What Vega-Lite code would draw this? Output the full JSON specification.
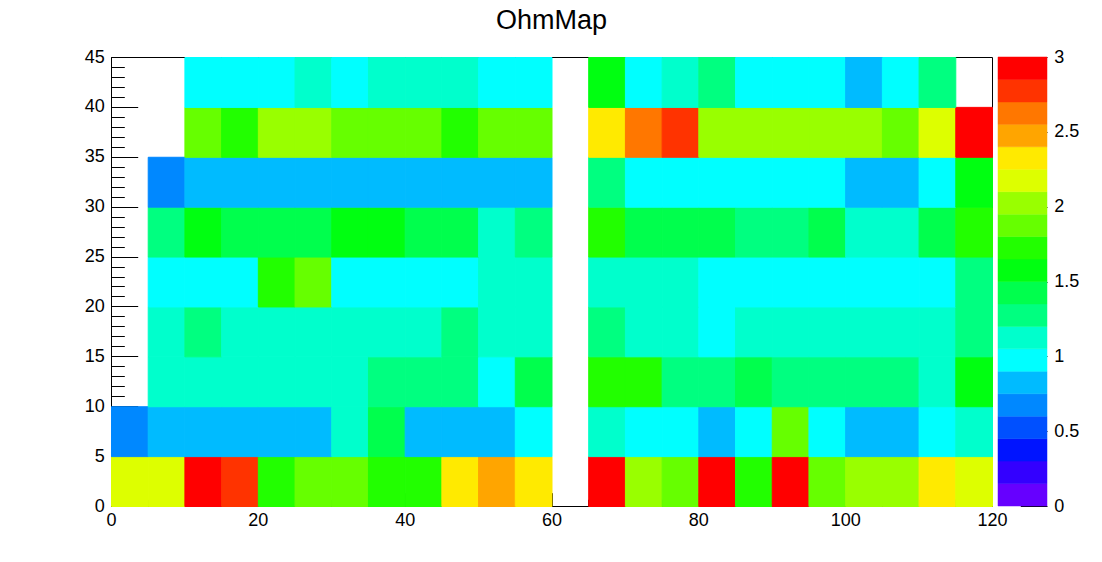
{
  "$schema": "https://vega.github.io/schema/vega-lite/v6.json",
  "padding": {"left": 84, "top": 7, "right": 5, "bottom": 5},
  "spacing": 6,
  "bounds": "flush",
  "resolve": {"scale": {"color": "independent", "stroke": "independent"}},
  "config": {
    "view": {"stroke": null},
    "axis": {"grid": false, "title": null, "labelFont": "Liberation Sans", "labelFontSize": 18, "labelColor": "black", "tickColor": "black", "domainColor": "black", "tickWidth": 1, "domainWidth": 1, "labelFlush": false, "labelOverlap": false, "zindex": 1}
  },
  "hconcat": [
    {
      "width": 881,
      "height": 449,
      "title": {"text": "OhmMap", "font": "Liberation Sans", "fontSize": 27, "fontWeight": "normal", "color": "black", "anchor": "middle", "frame": "group", "offset": 13},
      "data": {"values": [
        {"x":2.5,"y":2.5,"v":2.17},{"x":7.5,"y":2.5,"v":2.17},{"x":12.5,"y":2.5,"v":2.92},{"x":17.5,"y":2.5,"v":2.77},{"x":22.5,"y":2.5,"v":1.72},{"x":27.5,"y":2.5,"v":1.87},{"x":32.5,"y":2.5,"v":1.87},{"x":37.5,"y":2.5,"v":1.72},{"x":42.5,"y":2.5,"v":1.72},{"x":47.5,"y":2.5,"v":2.32},{"x":52.5,"y":2.5,"v":2.47},{"x":57.5,"y":2.5,"v":2.32},{"x":67.5,"y":2.5,"v":2.92},{"x":72.5,"y":2.5,"v":2.02},{"x":77.5,"y":2.5,"v":1.87},{"x":82.5,"y":2.5,"v":2.92},{"x":87.5,"y":2.5,"v":1.72},{"x":92.5,"y":2.5,"v":2.92},{"x":97.5,"y":2.5,"v":1.87},{"x":102.5,"y":2.5,"v":2.02},{"x":107.5,"y":2.5,"v":2.02},{"x":112.5,"y":2.5,"v":2.32},{"x":117.5,"y":2.5,"v":2.17},
        {"x":2.5,"y":7.5,"v":0.67},{"x":7.5,"y":7.5,"v":0.82},{"x":12.5,"y":7.5,"v":0.82},{"x":17.5,"y":7.5,"v":0.82},{"x":22.5,"y":7.5,"v":0.82},{"x":27.5,"y":7.5,"v":0.82},{"x":32.5,"y":7.5,"v":1.12},{"x":37.5,"y":7.5,"v":1.42},{"x":42.5,"y":7.5,"v":0.82},{"x":47.5,"y":7.5,"v":0.82},{"x":52.5,"y":7.5,"v":0.82},{"x":57.5,"y":7.5,"v":0.97},{"x":67.5,"y":7.5,"v":1.12},{"x":72.5,"y":7.5,"v":0.97},{"x":77.5,"y":7.5,"v":0.97},{"x":82.5,"y":7.5,"v":0.82},{"x":87.5,"y":7.5,"v":0.97},{"x":92.5,"y":7.5,"v":1.87},{"x":97.5,"y":7.5,"v":0.97},{"x":102.5,"y":7.5,"v":0.82},{"x":107.5,"y":7.5,"v":0.82},{"x":112.5,"y":7.5,"v":0.97},{"x":117.5,"y":7.5,"v":1.12},
        {"x":7.5,"y":12.5,"v":1.12},{"x":12.5,"y":12.5,"v":1.12},{"x":17.5,"y":12.5,"v":1.12},{"x":22.5,"y":12.5,"v":1.12},{"x":27.5,"y":12.5,"v":1.12},{"x":32.5,"y":12.5,"v":1.12},{"x":37.5,"y":12.5,"v":1.27},{"x":42.5,"y":12.5,"v":1.27},{"x":47.5,"y":12.5,"v":1.27},{"x":52.5,"y":12.5,"v":0.97},{"x":57.5,"y":12.5,"v":1.42},{"x":67.5,"y":12.5,"v":1.72},{"x":72.5,"y":12.5,"v":1.72},{"x":77.5,"y":12.5,"v":1.27},{"x":82.5,"y":12.5,"v":1.27},{"x":87.5,"y":12.5,"v":1.42},{"x":92.5,"y":12.5,"v":1.27},{"x":97.5,"y":12.5,"v":1.27},{"x":102.5,"y":12.5,"v":1.27},{"x":107.5,"y":12.5,"v":1.27},{"x":112.5,"y":12.5,"v":1.12},{"x":117.5,"y":12.5,"v":1.57},
        {"x":7.5,"y":17.5,"v":1.12},{"x":12.5,"y":17.5,"v":1.27},{"x":17.5,"y":17.5,"v":1.12},{"x":22.5,"y":17.5,"v":1.12},{"x":27.5,"y":17.5,"v":1.12},{"x":32.5,"y":17.5,"v":1.12},{"x":37.5,"y":17.5,"v":1.12},{"x":42.5,"y":17.5,"v":1.12},{"x":47.5,"y":17.5,"v":1.27},{"x":52.5,"y":17.5,"v":1.12},{"x":57.5,"y":17.5,"v":1.12},{"x":67.5,"y":17.5,"v":1.27},{"x":72.5,"y":17.5,"v":1.12},{"x":77.5,"y":17.5,"v":1.12},{"x":82.5,"y":17.5,"v":0.97},{"x":87.5,"y":17.5,"v":1.12},{"x":92.5,"y":17.5,"v":1.12},{"x":97.5,"y":17.5,"v":1.12},{"x":102.5,"y":17.5,"v":1.12},{"x":107.5,"y":17.5,"v":1.12},{"x":112.5,"y":17.5,"v":1.12},{"x":117.5,"y":17.5,"v":1.27},
        {"x":7.5,"y":22.5,"v":0.97},{"x":12.5,"y":22.5,"v":0.97},{"x":17.5,"y":22.5,"v":0.97},{"x":22.5,"y":22.5,"v":1.72},{"x":27.5,"y":22.5,"v":1.87},{"x":32.5,"y":22.5,"v":0.97},{"x":37.5,"y":22.5,"v":0.97},{"x":42.5,"y":22.5,"v":0.97},{"x":47.5,"y":22.5,"v":0.97},{"x":52.5,"y":22.5,"v":1.12},{"x":57.5,"y":22.5,"v":1.12},{"x":67.5,"y":22.5,"v":1.12},{"x":72.5,"y":22.5,"v":1.12},{"x":77.5,"y":22.5,"v":1.12},{"x":82.5,"y":22.5,"v":0.97},{"x":87.5,"y":22.5,"v":0.97},{"x":92.5,"y":22.5,"v":0.97},{"x":97.5,"y":22.5,"v":0.97},{"x":102.5,"y":22.5,"v":0.97},{"x":107.5,"y":22.5,"v":0.97},{"x":112.5,"y":22.5,"v":0.97},{"x":117.5,"y":22.5,"v":1.27},
        {"x":7.5,"y":27.5,"v":1.27},{"x":12.5,"y":27.5,"v":1.57},{"x":17.5,"y":27.5,"v":1.42},{"x":22.5,"y":27.5,"v":1.42},{"x":27.5,"y":27.5,"v":1.42},{"x":32.5,"y":27.5,"v":1.57},{"x":37.5,"y":27.5,"v":1.57},{"x":42.5,"y":27.5,"v":1.42},{"x":47.5,"y":27.5,"v":1.42},{"x":52.5,"y":27.5,"v":1.12},{"x":57.5,"y":27.5,"v":1.27},{"x":67.5,"y":27.5,"v":1.72},{"x":72.5,"y":27.5,"v":1.42},{"x":77.5,"y":27.5,"v":1.42},{"x":82.5,"y":27.5,"v":1.42},{"x":87.5,"y":27.5,"v":1.27},{"x":92.5,"y":27.5,"v":1.27},{"x":97.5,"y":27.5,"v":1.42},{"x":102.5,"y":27.5,"v":1.12},{"x":107.5,"y":27.5,"v":1.12},{"x":112.5,"y":27.5,"v":1.42},{"x":117.5,"y":27.5,"v":1.72},
        {"x":7.5,"y":32.5,"v":0.67},{"x":12.5,"y":32.5,"v":0.82},{"x":17.5,"y":32.5,"v":0.82},{"x":22.5,"y":32.5,"v":0.82},{"x":27.5,"y":32.5,"v":0.82},{"x":32.5,"y":32.5,"v":0.82},{"x":37.5,"y":32.5,"v":0.82},{"x":42.5,"y":32.5,"v":0.82},{"x":47.5,"y":32.5,"v":0.82},{"x":52.5,"y":32.5,"v":0.82},{"x":57.5,"y":32.5,"v":0.82},{"x":67.5,"y":32.5,"v":1.27},{"x":72.5,"y":32.5,"v":0.97},{"x":77.5,"y":32.5,"v":0.97},{"x":82.5,"y":32.5,"v":0.97},{"x":87.5,"y":32.5,"v":0.97},{"x":92.5,"y":32.5,"v":0.97},{"x":97.5,"y":32.5,"v":0.97},{"x":102.5,"y":32.5,"v":0.82},{"x":107.5,"y":32.5,"v":0.82},{"x":112.5,"y":32.5,"v":0.97},{"x":117.5,"y":32.5,"v":1.57},
        {"x":12.5,"y":37.5,"v":1.87},{"x":17.5,"y":37.5,"v":1.72},{"x":22.5,"y":37.5,"v":2.02},{"x":27.5,"y":37.5,"v":2.02},{"x":32.5,"y":37.5,"v":1.87},{"x":37.5,"y":37.5,"v":1.87},{"x":42.5,"y":37.5,"v":1.87},{"x":47.5,"y":37.5,"v":1.72},{"x":52.5,"y":37.5,"v":1.87},{"x":57.5,"y":37.5,"v":1.87},{"x":67.5,"y":37.5,"v":2.32},{"x":72.5,"y":37.5,"v":2.62},{"x":77.5,"y":37.5,"v":2.77},{"x":82.5,"y":37.5,"v":2.02},{"x":87.5,"y":37.5,"v":2.02},{"x":92.5,"y":37.5,"v":2.02},{"x":97.5,"y":37.5,"v":2.02},{"x":102.5,"y":37.5,"v":2.02},{"x":107.5,"y":37.5,"v":1.87},{"x":112.5,"y":37.5,"v":2.17},{"x":117.5,"y":37.5,"v":2.92},
        {"x":12.5,"y":42.5,"v":0.97},{"x":17.5,"y":42.5,"v":0.97},{"x":22.5,"y":42.5,"v":0.97},{"x":27.5,"y":42.5,"v":1.12},{"x":32.5,"y":42.5,"v":0.97},{"x":37.5,"y":42.5,"v":1.12},{"x":42.5,"y":42.5,"v":1.12},{"x":47.5,"y":42.5,"v":1.12},{"x":52.5,"y":42.5,"v":0.97},{"x":57.5,"y":42.5,"v":0.97},{"x":67.5,"y":42.5,"v":1.57},{"x":72.5,"y":42.5,"v":0.97},{"x":77.5,"y":42.5,"v":1.12},{"x":82.5,"y":42.5,"v":1.27},{"x":87.5,"y":42.5,"v":0.97},{"x":92.5,"y":42.5,"v":0.97},{"x":97.5,"y":42.5,"v":0.97},{"x":102.5,"y":42.5,"v":0.82},{"x":107.5,"y":42.5,"v":0.97},{"x":112.5,"y":42.5,"v":1.27}
      ]},
      "resolve": {"axis": {"x": "independent", "y": "independent"}},
      "layer": [
        {
          "mark": {"type": "rect", "opacity": 0},
          "encoding": {
            "x": {"field": "x", "type": "quantitative", "bin": {"step": 5, "extent": [0, 120]}, "scale": {"domain": [0, 120], "nice": false, "zero": false},
                  "axis": {"orient": "bottom", "values": [0,5,10,15,20,25,30,35,40,45,50,55,60,65,70,75,80,85,90,95,100,105,110,115,120], "tickSize": -6.7, "labels": false, "domain": false}},
            "y": {"field": "y", "type": "quantitative", "bin": {"step": 5, "extent": [0, 45]}, "scale": {"domain": [0, 45], "nice": false, "zero": false},
                  "axis": {"orient": "left", "values": [0,1,2,3,4,5,6,7,8,9,10,11,12,13,14,15,16,17,18,19,20,21,22,23,24,25,26,27,28,29,30,31,32,33,34,35,36,37,38,39,40,41,42,43,44,45], "tickSize": -13.3, "labels": false, "domain": false}}
          }
        },
        {
          "mark": {"type": "rect", "opacity": 0},
          "encoding": {
            "x": {"field": "x", "type": "quantitative", "bin": {"step": 5, "extent": [0, 120]}, "scale": {"domain": [0, 120], "nice": false, "zero": false},
                  "axis": {"orient": "top", "ticks": false, "labels": false, "domain": true, "zindex": 0}},
            "y": {"field": "y", "type": "quantitative", "bin": {"step": 5, "extent": [0, 45]}, "scale": {"domain": [0, 45], "nice": false, "zero": false},
                  "axis": {"orient": "right", "ticks": false, "labels": false, "domain": true}}
          }
        },
        {
          "mark": {"type": "rect", "strokeWidth": 1},
          "encoding": {
            "x": {"field": "x", "type": "quantitative", "bin": {"step": 5, "extent": [0, 120]}, "scale": {"domain": [0, 120], "nice": false, "zero": false},
                  "axis": {"orient": "bottom", "values": [0,20,40,60,80,100,120], "format": "d", "tickSize": -13.3, "labelPadding": 18.7}},
            "y": {"field": "y", "type": "quantitative", "bin": {"step": 5, "extent": [0, 45]}, "scale": {"domain": [0, 45], "nice": false, "zero": false},
                  "axis": {"orient": "left", "values": [0,5,10,15,20,25,30,35,40,45], "format": "d", "tickSize": -26.7, "labelPadding": 33.4}},
            "color": {"field": "v", "type": "quantitative", "legend": null,
                      "scale": {"type": "quantize", "domain": [0, 3], "nice": false,
                                "range": ["#6600ff","#3300ff","#0014ff","#0050ff","#0088ff","#00bbff","#00ffff","#00ffcc","#00ff80","#00ff4d","#00ff11","#22ff00","#66ff00","#99ff00","#ddff00","#ffea00","#ffa500","#ff7700","#ff3300","#ff0000"]}},
            "stroke": {"field": "v", "type": "quantitative", "legend": null,
                      "scale": {"type": "quantize", "domain": [0, 3], "nice": false,
                                "range": ["#6600ff","#3300ff","#0014ff","#0050ff","#0088ff","#00bbff","#00ffff","#00ffcc","#00ff80","#00ff4d","#00ff11","#22ff00","#66ff00","#99ff00","#ddff00","#ffea00","#ffa500","#ff7700","#ff3300","#ff0000"]}}
          }
        }
      ]
    },
    {
      "width": 49,
      "height": 449,
      "data": {"values": [
        {"lo":0,"hi":0.15,"c":0.07},{"lo":0.15,"hi":0.3,"c":0.22},{"lo":0.3,"hi":0.45,"c":0.37},{"lo":0.45,"hi":0.6,"c":0.52},{"lo":0.6,"hi":0.75,"c":0.67},
        {"lo":0.75,"hi":0.9,"c":0.82},{"lo":0.9,"hi":1.05,"c":0.97},{"lo":1.05,"hi":1.2,"c":1.12},{"lo":1.2,"hi":1.35,"c":1.27},{"lo":1.35,"hi":1.5,"c":1.42},
        {"lo":1.5,"hi":1.65,"c":1.57},{"lo":1.65,"hi":1.8,"c":1.72},{"lo":1.8,"hi":1.95,"c":1.87},{"lo":1.95,"hi":2.1,"c":2.02},{"lo":2.1,"hi":2.25,"c":2.17},
        {"lo":2.25,"hi":2.4,"c":2.32},{"lo":2.4,"hi":2.55,"c":2.47},{"lo":2.55,"hi":2.7,"c":2.62},{"lo":2.7,"hi":2.85,"c":2.77},{"lo":2.85,"hi":3,"c":2.92}
      ]},
      "mark": {"type": "rect", "strokeWidth": 0.5},
      "encoding": {
        "x": {"value": 0},
        "x2": {"value": "width"},
        "y": {"field": "lo", "type": "quantitative", "scale": {"domain": [0, 3], "nice": false, "zero": false},
              "axis": {"orient": "right", "values": [0,0.5,1,1.5,2,2.5,3], "format": "~g", "tickSize": -26.7, "labelPadding": 33.4, "domain": false}},
        "y2": {"field": "hi"},
        "color": {"field": "c", "type": "quantitative", "legend": null,
                  "scale": {"type": "quantize", "domain": [0, 3], "nice": false,
                            "range": ["#6600ff","#3300ff","#0014ff","#0050ff","#0088ff","#00bbff","#00ffff","#00ffcc","#00ff80","#00ff4d","#00ff11","#22ff00","#66ff00","#99ff00","#ddff00","#ffea00","#ffa500","#ff7700","#ff3300","#ff0000"]}},
        "stroke": {"field": "c", "type": "quantitative", "legend": null,
                  "scale": {"type": "quantize", "domain": [0, 3], "nice": false,
                            "range": ["#6600ff","#3300ff","#0014ff","#0050ff","#0088ff","#00bbff","#00ffff","#00ffcc","#00ff80","#00ff4d","#00ff11","#22ff00","#66ff00","#99ff00","#ddff00","#ffea00","#ffa500","#ff7700","#ff3300","#ff0000"]}}
      }
    }
  ]
}
